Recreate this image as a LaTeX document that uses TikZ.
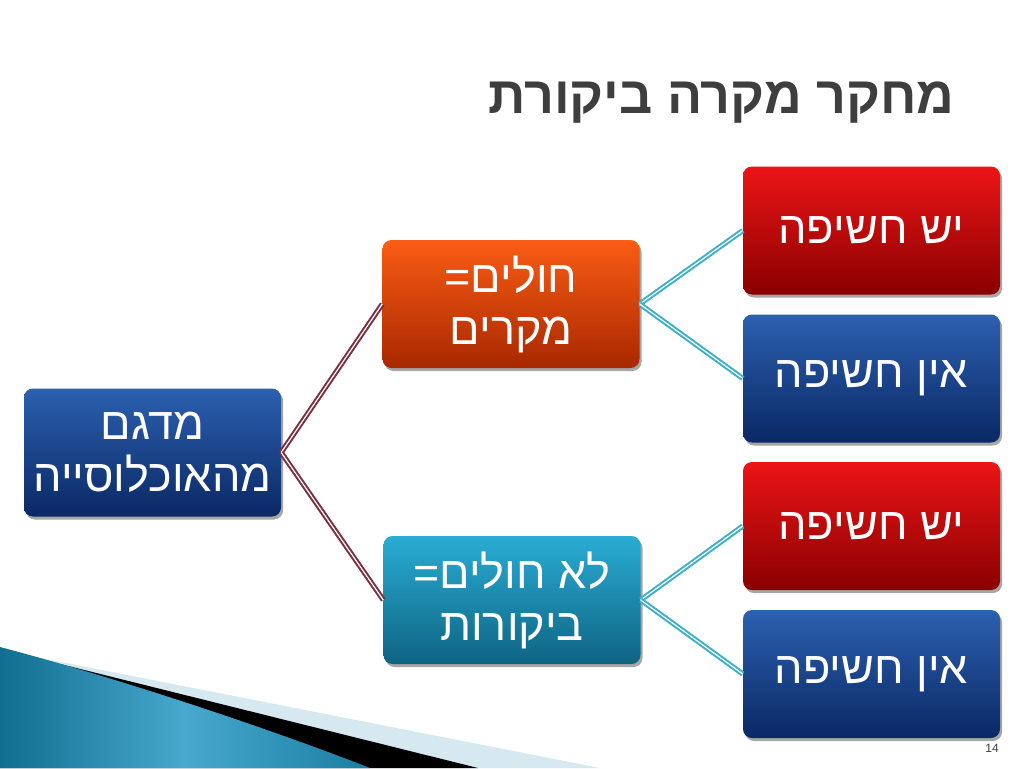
\documentclass[tikz,border=0pt]{standalone}
\usepackage{fontspec}
\usetikzlibrary{shadows}
\TeXXeTstate=1
\setmainfont{Liberation Sans}
\newfontfamily\heb[Script=Hebrew]{Liberation Sans}
\definecolor{bluetop}{RGB}{44,96,176}
\definecolor{bluebot}{RGB}{10,40,100}
\definecolor{orangetop}{RGB}{250,92,20}
\definecolor{orangebot}{RGB}{168,40,0}
\definecolor{tealtop}{RGB}{42,172,212}
\definecolor{tealbot}{RGB}{14,100,130}
\definecolor{redtop}{RGB}{236,20,22}
\definecolor{redbot}{RGB}{138,0,0}
\definecolor{maroonln}{RGB}{122,48,64}
\definecolor{tealln}{RGB}{60,176,200}
\definecolor{titlegray}{RGB}{62,62,62}
\definecolor{swdark}{RGB}{16,110,144}
\definecolor{swlight}{RGB}{72,168,205}
\definecolor{swright}{RGB}{26,126,162}
\definecolor{swpale}{RGB}{214,232,240}
\tikzset{
  box/.style={rounded corners=9pt, minimum width=257pt, minimum height=128pt,
    inner sep=0pt, align=center, text=white,
    font=\heb\fontsize{45}{52}\selectfont,
    drop shadow={shadow xshift=2pt, shadow yshift=-3pt, opacity=0.35, fill=black}},
  bluebox/.style={box, top color=bluetop, bottom color=bluebot},
  orangebox/.style={box, top color=orangetop, bottom color=orangebot},
  tealbox/.style={box, top color=tealtop, bottom color=tealbot},
  redbox/.style={box, top color=redtop, bottom color=redbot},
  rootlink/.style={draw=maroonln, double=white, line width=2pt, double distance=1.2pt},
  leaflink/.style={draw=tealln, double=white, line width=2pt, double distance=1.2pt},
}
\begin{document}
\begin{tikzpicture}[x=1pt,y=-1pt]
\useasboundingbox[fill=white] (0,0) rectangle (1024,768);
% bottom-left swoosh
\fill[swpale] (0,650) -- (600,768) -- (0,768) -- cycle;
\fill[black] (0,649) -- (478,768) -- (0,768) -- cycle;
\shade[left color=swdark, right color=swright, middle color=swlight]
  (0,647) .. controls (110,676) and (260,725) .. (370,768) -- (0,768) -- cycle;
% title
\node[anchor=base east, text=titlegray, font=\heb\bfseries\fontsize{52}{60}\selectfont] (title) at (958,113) {\beginR מחקר מקרה ביקורת\endR};
% nodes
\node[bluebox] (root) at (152.5,452.5) {\beginR מדגם\endR\\\beginR מהאוכלוסייה\endR};
\node[orangebox] (cases) at (511,304) {\beginR חולים=\endR\\\beginR מקרים\endR};
\node[tealbox] (controls) at (512,600) {\beginR לא חולים=\endR\\\beginR ביקורות\endR};
\node[redbox] (ce) at (871.5,230.5) {\beginR יש חשיפה\endR};
\node[bluebox] (cn) at (871.5,378.5) {\beginR אין חשיפה\endR};
\node[redbox] (te) at (871.5,526) {\beginR יש חשיפה\endR};
\node[bluebox] (tn) at (871.5,674) {\beginR אין חשיפה\endR};
% connectors
\draw[rootlink] (root.east) -- (cases.west);
\draw[rootlink] (root.east) -- (controls.west);
\draw[leaflink] (cases.east) -- (ce.west);
\draw[leaflink] (cases.east) -- (cn.west);
\draw[leaflink] (controls.east) -- (te.west);
\draw[leaflink] (controls.east) -- (tn.west);
% page number
\node[font=\fontsize{12}{14}\selectfont, text=titlegray] (pg) at (992,748) {14};
\end{tikzpicture}
\end{document}
